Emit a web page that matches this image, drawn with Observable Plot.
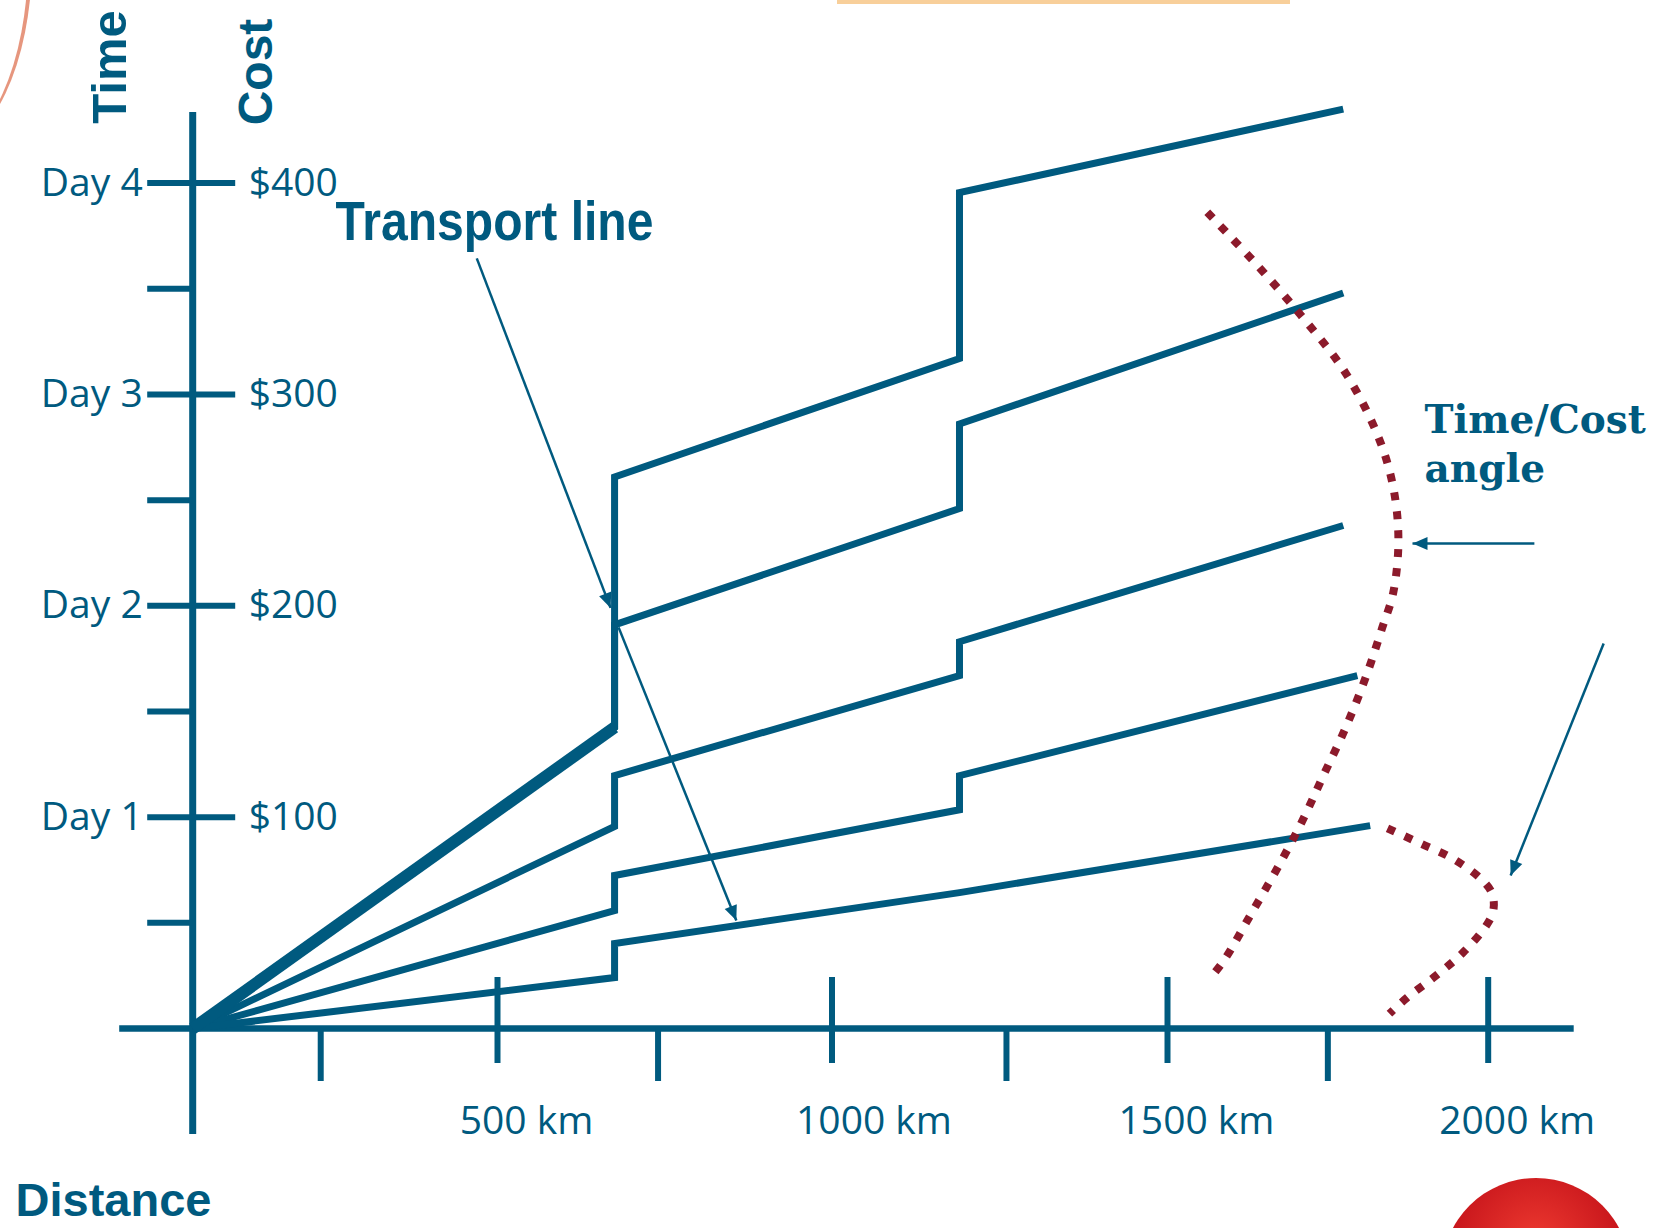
<!DOCTYPE html>
<html>
<head>
<meta charset="utf-8">
<script src="https://cdn.jsdelivr.net/npm/d3@7"></script>
<script src="https://cdn.jsdelivr.net/npm/@observablehq/plot@0.6"></script>
<style>
  html, body { margin: 0; padding: 0; background: #ffffff; overflow: hidden; }
  #wrap { position: relative; width: 1665px; height: 1228px; overflow: hidden; }
  #wrap svg { position: absolute; left: 0; top: 0; display: block; }
  .bar { position: absolute; left: 837px; top: 0; width: 453px; height: 4px; background: #f8cf9a; }
  .ball { position: absolute; left: 1442px; top: 1178px; width: 188px; height: 188px; border-radius: 50%;
          background: radial-gradient(circle at 50% 35%, #ee3a30 0%, #c8161c 55%, #8c0c10 100%); }
  .swirl { position: absolute; left: -150px; top: -229px; width: 178px; height: 378px; border-radius: 50%;
           border-right: 4px solid rgba(214, 80, 40, 0.6); }
</style>
</head>
<body>
<div id="wrap"><div class="bar"></div><div class="ball"></div><div class="swirl"></div></div>
<script>
const BLUE = "#005a7f";
const RED = "#8c1a2b";

// Transport lines: [distance km, cost $]
const routeNames = ["Route A", "Route B", "Route C", "Route D", "Route E"];
const routeA = [[0, 0], [675, 142.5], [675, 261], [1190, 317], [1190, 395.5], [1774, 435]];
const routeB = [[0, 0], [675, 142.5], [675, 191], [1190, 246], [1190, 286], [1774, 348]];
const routeC = [[0, 0], [675, 95.6], [675, 119.7], [1190, 167], [1190, 183], [1774, 238]];
const routeD = [[0, 0], [675, 55.8], [675, 72.4], [1190, 103.5], [1190, 119.6], [1796, 167]];
const routeE = [[0, 0], [675, 24.1], [675, 40.2], [1190, 64.3], [1816, 96]];

// Axis ticks and labels
const costTicks = [100, 200, 300, 400];
const costMinorTicks = [50, 150, 250, 350];
const dayLabels = ["Day 1", "Day 2", "Day 3", "Day 4"];
const costLabels = ["$100", "$200", "$300", "$400"];
const distTicks = [500, 1000, 1500, 2000];
const distMinorTicks = [210, 740, 1260, 1750];
const distLabels = ["500 km", "1000 km", "1500 km", "2000 km"];

// Time/Cost angle dotted curves [km, $]
const angleCurveUpper = [[1562, 386.2], [1640, 361.1], [1712, 336], [1778, 310], [1829, 279.7], [1852, 256],
  [1860, 231], [1852, 206.3], [1835, 189.8], [1809, 166.1], [1778, 142.5], [1743, 119.7], [1709, 97.5],
  [1671, 75.7], [1629, 53.5], [1590, 33.1], [1567, 24]];
const angleCurveLower = [[1843, 94.7], [1894, 87.6], [1944, 80.5], [1988, 71], [2006, 63.9], [2008, 55.8],
  [1997, 48.7], [1961, 36], [1919, 25.1], [1874, 14.7], [1846, 7]];

// Annotation pointers [from km, from $, to km, to $]
const pointerFrom = [[466, 364.4], [681, 189.8], [2072, 229.5], [2180, 182.2]];
const pointerTo = [[669, 199], [857, 51.1], [1882, 229.5], [2035, 72.4]];

const routes = [routeA, routeB, routeC, routeD, routeE];
const routeTable = routes.flatMap((pts, i) => pts.map(([km, cost]) => ({route: routeNames[i], km, cost})));
const trunk = routeA.slice(0, 2);
const pointers = pointerFrom.map((f, i) => ({x1: f[0], y1: f[1], x2: pointerTo[i][0], y2: pointerTo[i][1]}));
const costTickTable = costTicks.map((v, i) => ({v, day: dayLabels[i], cost: costLabels[i]}));
const distTickTable = distTicks.map((v, i) => ({v, label: distLabels[i]}));

const sans = "'Open Sans', 'Noto Sans', sans-serif";
const boldSans = "'Liberation Sans', Arial, sans-serif";
const distLabelStyle = {x: "v", y: 0, text: "label", textAnchor: "middle", dy: 93.5, fill: BLUE, fontSize: 39, fontFamily: sans};

const chart = Plot.plot({
  width: 1665,
  height: 1228,
  margin: 0,
  style: {background: "transparent", overflow: "visible"},
  x: {type: "linear", domain: [0, 500, 1000, 1500, 2000], range: [192.2, 497, 831.5, 1167, 1487.7], axis: null},
  y: {type: "linear", domain: [0, 400], range: [1028, 182.6], axis: null},
  marks: [
    // axis lines
    Plot.ruleX([0], {x: d => d, y1: 400, y2: 0, insetTop: -70.6, insetBottom: -106, stroke: BLUE, strokeWidth: 7}),
    Plot.ruleY([0], {y: d => d, x1: 0, x2: 2000, insetLeft: -73, insetRight: -86, stroke: BLUE, strokeWidth: 6.5}),
    // y ticks
    Plot.ruleY(costTicks, {y: d => d, x1: 0, x2: 0, insetLeft: -45, insetRight: -43, stroke: BLUE, strokeWidth: 6}),
    Plot.ruleY(costMinorTicks, {y: d => d, x1: 0, x2: 0, insetLeft: -45, insetRight: 0, stroke: BLUE, strokeWidth: 6}),
    // x ticks
    Plot.ruleX(distTicks, {x: d => d, y1: 0, y2: 0, insetTop: -51, insetBottom: -35, stroke: BLUE, strokeWidth: 6}),
    Plot.ruleX(distMinorTicks, {x: d => d, y1: 0, y2: 0, insetTop: 0, insetBottom: -53, stroke: BLUE, strokeWidth: 6}),
    // tick labels
    Plot.text(costTickTable, {x: 0, y: "v", text: "day", textAnchor: "end", dx: -50, fill: BLUE,
      fontSize: 39, fontFamily: sans}),
    Plot.text(costTickTable, {x: 0, y: "v", text: "cost", textAnchor: "start", dx: 56, fill: BLUE,
      fontSize: 39, fontFamily: sans}),
    Plot.text(distTickTable.filter(d => d.v === 1000), {...distLabelStyle, dx: 42}),
    Plot.text(distTickTable.filter(d => d.v !== 1000), {...distLabelStyle, dx: 29}),
    // axis titles
    Plot.text(["Time"], {frameAnchor: "top-left", dx: 109.6, dy: 66.5, rotate: -90, textAnchor: "middle", lineAnchor: "middle",
      fill: BLUE, fontSize: 49, fontWeight: "bold", fontFamily: boldSans}),
    Plot.text(["Cost"], {frameAnchor: "top-left", dx: 256.6, dy: 71.5, rotate: -90, textAnchor: "middle", lineAnchor: "middle",
      fill: BLUE, fontSize: 48, fontWeight: "bold", fontFamily: boldSans}),
    Plot.text(["Distance"], {frameAnchor: "top-left", dx: 15, dy: 1200, textAnchor: "start", lineAnchor: "middle",
      fill: BLUE, fontSize: 47, fontWeight: "bold", fontFamily: boldSans}),
    // transport lines
    Plot.line(routeTable, {x: "km", y: "cost", z: "route", stroke: BLUE, strokeWidth: 7,
      strokeLinejoin: "miter", strokeMiterlimit: 10, strokeLinecap: "butt"}),
    Plot.line(trunk, {x: d => d[0], y: d => d[1], stroke: BLUE, strokeWidth: 12, strokeLinecap: "butt"}),
    // time/cost angle curves
    Plot.line(angleCurveUpper, {x: d => d[0], y: d => d[1], curve: "catmull-rom", stroke: RED, strokeWidth: 8,
      strokeDasharray: "8 11", strokeLinecap: "butt"}),
    Plot.line(angleCurveLower, {x: d => d[0], y: d => d[1], curve: "catmull-rom", stroke: RED, strokeWidth: 8,
      strokeDasharray: "8 11", strokeLinecap: "butt"}),
    // pointers
    Plot.link(pointers, {x1: "x1", y1: "y1", x2: "x2", y2: "y2", stroke: BLUE, strokeWidth: 2.5, markerEnd: "arrow"}),
    // annotations
    Plot.text(["Transport line"], {frameAnchor: "top-left", dx: 335, dy: 221.8, textAnchor: "start", lineAnchor: "middle",
      fill: BLUE, fontSize: 56, fontWeight: "bold", fontFamily: "'Liberation Sans Narrow', 'Liberation Sans', Arial, sans-serif"}),
    Plot.text(["Time/Cost"], {frameAnchor: "top-left", dx: 1424, dy: 420.5, textAnchor: "start", lineAnchor: "middle",
      fill: BLUE, fontSize: 39, fontWeight: "bold", fontFamily: "'DejaVu Serif', serif"}),
    Plot.text(["angle"], {frameAnchor: "top-left", dx: 1424, dy: 469.5, textAnchor: "start", lineAnchor: "middle",
      fill: BLUE, fontSize: 39, fontWeight: "bold", fontFamily: "'DejaVu Serif', serif"})
  ]
});

// condense the "Transport line" annotation to its drawn width
chart.querySelectorAll("text").forEach(t => {
  if (t.textContent === "Transport line") {
    t.setAttribute("textLength", "318");
    t.setAttribute("lengthAdjust", "spacingAndGlyphs");
  }
});

// filled arrowheads
chart.querySelectorAll("marker").forEach(m => {
  m.setAttribute("viewBox", "-17 -8 18 16");
  m.setAttribute("markerWidth", "18");
  m.setAttribute("markerHeight", "16");
  m.setAttribute("markerUnits", "userSpaceOnUse");
  m.setAttribute("refX", "0");
  m.setAttribute("refY", "0");
  m.setAttribute("stroke", "none");
  m.setAttribute("fill", BLUE);
  while (m.firstChild) m.removeChild(m.firstChild);
  const p = document.createElementNS("http://www.w3.org/2000/svg", "path");
  p.setAttribute("d", "M-15,-6.5L0,0L-15,6.5Z");
  p.setAttribute("fill", BLUE);
  p.setAttribute("stroke", "none");
  m.appendChild(p);
});

document.getElementById("wrap").appendChild(chart);
</script>
</body>
</html>
